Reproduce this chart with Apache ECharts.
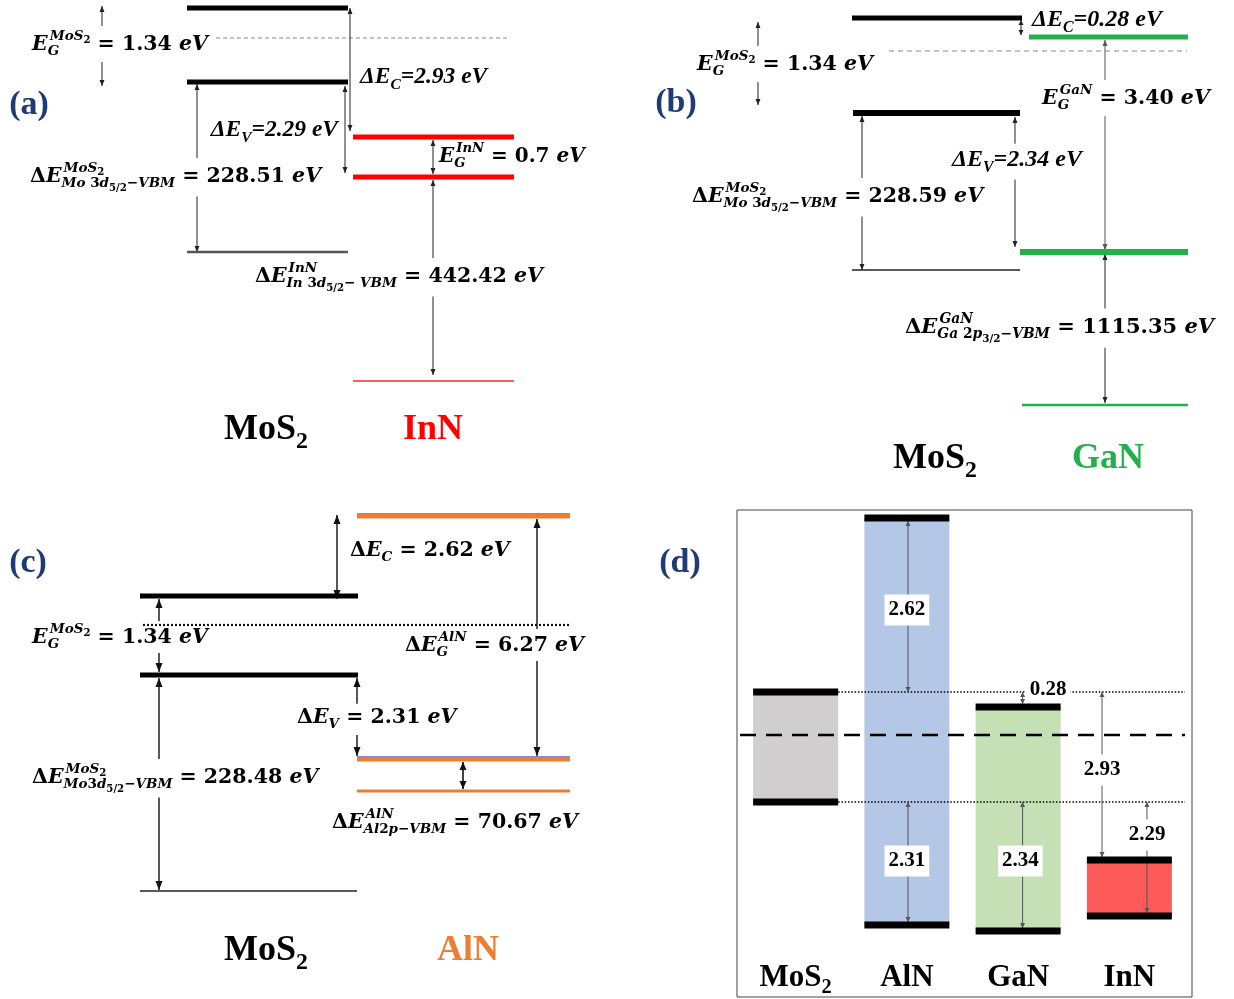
<!DOCTYPE html>
<html><head><meta charset="utf-8">
<script src="https://cdn.jsdelivr.net/npm/echarts@6/dist/echarts.min.js"></script>
<style>html,body{margin:0;padding:0;background:#fff}#c{width:1234px;height:999px}</style>
</head><body><div id="c"></div>
<script>
// ================= DATA =================
// Level heights are schematic diagram units (the original drawing is not to scale), up = higher energy.
// (a) MoS2 / InN
const aNames = ['MoS_{2}', 'InN'];
const aGap = ['1.34', '0.7'];
const aOffset = ['2.93', '2.29'];          // ΔEc, ΔEv
const aCoreBE = ['228.51', '442.42'];
const aCBM = [482, 353];
const aVBM = [408, 313];
const aCore = [238, 109];
const aMid = [452];
// (b) MoS2 / GaN
const bNames = ['MoS_{2}', 'GaN'];
const bGap = ['1.34', '3.40'];
const bOffset = ['0.28', '2.34'];
const bCoreBE = ['228.59', '1115.35'];
const bCBM = [472, 453];
const bVBM = [377, 238];
const bCore = [220, 85];
const bMid = [439];
// (c) MoS2 / AlN
const cNames = ['MoS_{2}', 'AlN'];
const cGap = ['1.34', '6.27'];
const cOffset = ['2.62', '2.31'];
const cCoreBE = ['228.48', '70.67'];
const cCBM = [403, 483];
const cVBM = [324, 240];
const cCore = [108, 208];
const cMid = [374];
// (d) summary
const dNames = ['MoS_{2}', 'AlN', 'GaN', 'InN'];
const dCBM = [307, 481, 292, 139];
const dVBM = [197, 74, 68, 83];
const dMid = [264];
const dOffC = ['2.62', '0.28', '2.93'];   // AlN, GaN, InN
const dOffV = ['2.31', '2.34', '2.29'];

// ================= STYLE =================
const TNR = "'Liberation Serif', 'Times New Roman', serif";
const MATH = "'DejaVu Serif', serif";
const NAVY = '#1f3a75';
const RED = '#ff0000', GREEN = '#22b04b', ORANGE = '#ed7d31';

// ================= math text helpers =================
const ctx = document.createElement('canvas').getContext('2d');
function measure(font, s) { ctx.font = font; return ctx.measureText(s).width; }
function fontStr(it, size, fam) { return (it ? 'italic ' : '') + 'bold ' + size.toFixed(2) + 'px ' + fam; }
function parse(s) {
  let i = 0;
  function group() {
    const out = []; let buf = '';
    const flush = () => { if (buf) { out.push({ t: buf }); buf = ''; } };
    while (i < s.length) {
      const c = s[i];
      if (c === '}') { i++; break; }
      if (c === '^' || c === '_') {
        flush(); i++;
        let inner;
        if (s[i] === '{') { i++; inner = group(); } else { inner = [{ t: s[i] }]; i++; }
        const last = out[out.length - 1];
        if (last && last.script && !last[c]) last[c] = inner;
        else out.push({ script: true, [c]: inner });
        continue;
      }
      buf += c; i++;
    }
    flush();
    return out;
  }
  return group();
}
function runs(s, mode) {
  const out = [];
  for (const ch of s) {
    const it = mode === 'it' ? true : mode === 'rm' ? false : /[A-Za-z]/.test(ch);
    if (out.length && out[out.length - 1].it === it) out[out.length - 1].s += ch;
    else out.push({ s: ch, it });
  }
  return out;
}
function layout(nodes, size, x, y, level, mode, fam, out) {
  let cx = x, lastIt = false;
  for (const n of nodes) {
    if (n.t !== undefined) {
      for (const r of runs(n.t, mode)) {
        const f = fontStr(r.it, size, fam);
        out.push({ text: r.s, x: cx, y, font: f, size });
        cx += measure(f, r.s);
        lastIt = r.it;
      }
    } else {
      const ss = size * (level === 0 ? 0.66 : 0.75);
      let w = 0;
      if (n['^']) w = Math.max(w, layout(n['^'], ss, cx + (lastIt ? size * 0.1 : 0), y - size * 0.42, level + 1, mode, fam, out) - cx);
      if (n['_']) w = Math.max(w, layout(n['_'], ss, cx, y + size * 0.32, level + 1, mode, fam, out) - cx);
      cx += w;
    }
  }
  return cx;
}

// ================= primitives =================
function level(x0, x1, e, color, w, z) { return { k: 'L', x0, x1, e, color, w, z: z == null ? 4 : z }; }
function guide(x0, x1, e, color, w, dash, z) { return { k: 'L', x0, x1, e, color, w, dash, z: z == null ? 1 : z }; }
function arrow(x, e0, e1, st) { return Object.assign({ k: 'A', x, e0, e1, z: 2 }, st); }
function box(x0, x1, e0, e1, fill) { return { k: 'R', x0, x1, e0, e1, fill, z: 0 }; }
function text(x, e, src, size, opt) { return Object.assign({ k: 'T', x, e, src, size, mode: 'math', fam: MATH, color: '#000', align: 'left', bg: true, pad: 3, z: 3 }, opt || {}); }

function render(prims) {
  return function (params, api) {
    const p = prims[api.value(2)];
    if (p.k === 'L') {
      const a = api.coord([p.x0, p.e]), b = api.coord([p.x1, p.e]);
      return { type: 'line', shape: { x1: a[0], y1: a[1], x2: b[0], y2: b[1] },
        style: { stroke: p.color, lineWidth: p.w, lineDash: p.dash || null, lineCap: 'butt' } };
    }
    if (p.k === 'R') {
      const a = api.coord([p.x0, p.e1]), b = api.coord([p.x1, p.e0]);
      return { type: 'rect', shape: { x: a[0], y: a[1], width: b[0] - a[0], height: b[1] - a[1] }, style: { fill: p.fill } };
    }
    if (p.k === 'A') {
      const a = api.coord([p.x, p.e0]), b = api.coord([p.x, p.e1]);
      const hw = p.hw || 3, hl = p.hl || 6, col = p.color || '#222';
      const ch = [{ type: 'line', shape: { x1: a[0], y1: a[1], x2: b[0], y2: b[1] }, style: { stroke: col, lineWidth: p.w || 1 } }];
      const head = (tip, from) => {
        const d = Math.sign(tip[1] - from[1]);
        return { type: 'polygon', shape: { points: [[tip[0], tip[1]], [tip[0] - hw, tip[1] - d * hl], [tip[0] + hw, tip[1] - d * hl]] }, style: { fill: col } };
      };
      ch.push(head(a, b)); ch.push(head(b, a));
      return { type: 'group', children: ch };
    }
    if (p.k === 'T') {
      const tmp = [];
      const w = layout(parse(p.src), p.size, 0, 0, 0, p.mode, p.fam, tmp);
      const c = api.coord([p.x, p.e]);
      const x0 = c[0] - (p.align === 'center' ? w / 2 : p.align === 'right' ? w : 0);
      let top = Infinity, bot = -Infinity;
      tmp.forEach(t => { top = Math.min(top, t.y - t.size * 0.55); bot = Math.max(bot, t.y + t.size * 0.55); });
      const ch = [];
      if (p.bg) ch.push({ type: 'rect', shape: { x: x0 - p.pad, y: c[1] + top - p.pad, width: w + 2 * p.pad, height: bot - top + 2 * p.pad }, style: { fill: '#fff', stroke: p.border || null, lineWidth: 1 } });
      tmp.forEach(t => ch.push({ type: 'text', style: { text: t.text, x: x0 + t.x, y: c[1] + t.y, font: t.font, fill: p.color, align: 'left', verticalAlign: 'middle' } }));
      return { type: 'group', children: ch };
    }
  };
}

// ================= panel builders =================
const IT = { mode: 'it', fam: TNR };
function panelA() {
  const P = [], mx = [187, 348], nx = [353, 514];
  P.push(level(mx[0], mx[1], aCBM[0], '#000', 5));
  P.push(level(mx[0], mx[1], aVBM[0], '#000', 5));
  P.push(level(mx[0], mx[1], aCore[0], '#555', 2.5));
  P.push(level(nx[0], nx[1], aCBM[1], RED, 5));
  P.push(level(nx[0], nx[1], aVBM[1], RED, 5));
  P.push(level(nx[0], nx[1], aCore[1], '#ff5c5c', 2));
  P.push(guide(216, 510, aMid[0], '#8a8a8a', 1.2, [4, 3]));
  const th = { w: 1, hw: 2.5, hl: 6, color: '#222' };
  P.push(arrow(102, aCBM[0] + 2, aVBM[0] - 4, th));
  P.push(arrow(350, aCBM[0], aCBM[1] + 6, th));
  P.push(arrow(345, aVBM[0] - 4, aVBM[1] + 4, th));
  P.push(arrow(197, aVBM[0] - 2, aCore[0], th));
  P.push(arrow(433, aCBM[1] - 3, aVBM[1] + 3, th));
  P.push(arrow(433, aVBM[1] - 3, aCore[1] + 6, th));
  P.push(text(32, 445, `E_{G}^{MoS_{2}} = ${aGap[0]} eV`, 20.5));
  P.push(text(360, 413, `ΔE_{C}=${aOffset[0]} eV`, 23.5, IT));
  P.push(text(338, 360, `ΔE_{V}=${aOffset[1]} eV`, 23.5, Object.assign({ align: 'right' }, IT)));
  P.push(text(30, 313, `ΔE^{MoS_{2}}_{Mo 3d_{5/2}−VBM} = ${aCoreBE[0]} eV`, 20.5));
  P.push(text(439, 333, `E_{G}^{InN} = ${aGap[1]} eV`, 20, { pad: 1 }));
  P.push(text(255, 213, `ΔE^{InN}_{In 3d_{5/2}− VBM} = ${aCoreBE[1]} eV`, 20.5));
  P.push(text(29, 385, '(a)', 34, { mode: 'rm', fam: TNR, color: NAVY, align: 'center', bg: false }));
  P.push(text(266, 60, aNames[0], 36, { mode: 'rm', fam: TNR, align: 'center', bg: false }));
  P.push(text(433, 60, aNames[1], 36, { mode: 'rm', fam: TNR, color: RED, align: 'center', bg: false }));
  return P;
}
function panelB() {
  const P = [];
  P.push(level(235, 405, bCBM[0], '#000', 5));
  P.push(level(236, 403, bVBM[0], '#000', 6));
  P.push(level(235, 403, bCore[0], '#222', 1.5));
  P.push(level(412, 571, bCBM[1], GREEN, 5));
  P.push(level(403, 571, bVBM[1], GREEN, 6));
  P.push(level(405, 571, bCore[1], GREEN, 2.5));
  P.push(guide(272, 570, bMid[0], '#8a8a8a', 1.2, [5, 4]));
  const th = { w: 1, hw: 2.5, hl: 6, color: '#222' };
  P.push(arrow(141, bCBM[0] - 4, bVBM[0] + 8, th));
  P.push(arrow(404, bCBM[0] - 2, bCBM[1] + 2, { w: 1, hw: 2.5, hl: 5, color: '#222' }));
  P.push(arrow(488, bCBM[1] - 3, bVBM[1] + 2, { w: 1, hw: 2.5, hl: 6, color: '#555' }));
  P.push(arrow(398, bVBM[0] - 4, bVBM[1] + 5, th));
  P.push(arrow(245, bVBM[0] - 3, bCore[0], th));
  P.push(arrow(488, bVBM[1] - 2, bCore[1] + 2, th));
  P.push(text(80, 425, `E_{G}^{MoS_{2}} = ${bGap[0]} eV`, 20.5));
  P.push(text(415, 470, `ΔE_{C}=${bOffset[0]} eV`, 24, Object.assign({ bg: false }, IT)));
  P.push(text(425, 391, `E_{G}^{GaN} = ${bGap[1]} eV`, 20.5));
  P.push(text(335, 330, `ΔE_{V}=${bOffset[1]} eV`, 24, IT));
  P.push(text(75, 293, `ΔE^{MoS_{2}}_{Mo 3d_{5/2}−VBM} = ${bCoreBE[0]} eV`, 20.5));
  P.push(text(288, 162, `ΔE^{GaN}_{Ga 2p_{3/2}−VBM} = ${bCoreBE[1]} eV`, 21));
  P.push(text(59, 387, '(b)', 34, { mode: 'rm', fam: TNR, color: NAVY, align: 'center', bg: false }));
  P.push(text(318, 31, bNames[0], 36, { mode: 'rm', fam: TNR, align: 'center', bg: false }));
  P.push(text(491, 31, bNames[1], 36, { mode: 'rm', fam: TNR, color: GREEN, align: 'center', bg: false }));
  return P;
}
function panelC() {
  const P = [], mx = [140, 358], ax = [357, 570];
  P.push(level(mx[0], mx[1], cCBM[0], '#000', 5));
  P.push(level(mx[0], mx[1], cVBM[0], '#000', 5));
  P.push(level(mx[0], 357, cCore[0], '#222', 1.5));
  P.push(level(ax[0], ax[1], cCBM[1], ORANGE, 5));
  P.push(level(ax[0], ax[1], cCBM[1] + 2.5, '#8c86d0', 1));
  P.push(level(ax[0], ax[1], cVBM[1], ORANGE, 5));
  P.push(level(ax[0], ax[1], cVBM[1] + 2.5, '#8c86d0', 1));
  P.push(level(ax[0], ax[1], cCore[1], ORANGE, 3));
  P.push(guide(143, 570, cMid[0], '#111', 2.2, [2, 2], 4));
  const th = { w: 1.4, hw: 3.5, hl: 9, color: '#111' };
  P.push(arrow(337, cCBM[1] + 1, cCBM[0] - 3, th));
  P.push(arrow(159, cCBM[0] - 3, cVBM[0] + 3, th));
  P.push(arrow(537, cCBM[1] - 3, cVBM[1] + 3, th));
  P.push(arrow(357, cVBM[0] - 3, cVBM[1] + 3, th));
  P.push(arrow(463, cVBM[1] - 3, cCore[1] + 2, { w: 1.6, hw: 3.5, hl: 8, color: '#111' }));
  P.push(arrow(159, cVBM[0] - 3, cCore[0] + 1, th));
  P.push(text(350, 448, `ΔE_{C} = ${cOffset[0]} eV`, 20.5, { bg: false }));
  P.push(text(32, 361, `E_{G}^{MoS_{2}} = ${cGap[0]} eV`, 20.5, { pad: 1 }));
  P.push(text(405, 353, `ΔE_{G}^{AlN} = ${cGap[1]} eV`, 20.5, { pad: 1 }));
  P.push(text(297, 281, `ΔE_{V} = ${cOffset[1]} eV`, 20.5));
  P.push(text(32, 221, `ΔE^{MoS_{2}}_{Mo3d_{5/2}−VBM} = ${cCoreBE[0]} eV`, 20.5));
  P.push(text(332, 176, `ΔE^{AlN}_{Al2p−VBM} = ${cCoreBE[1]} eV`, 20.5, { bg: false }));
  P.push(text(28, 436, '(c)', 34, { mode: 'rm', fam: TNR, color: NAVY, align: 'center', bg: false }));
  P.push(text(266, 48, cNames[0], 36, { mode: 'rm', fam: TNR, align: 'center', bg: false }));
  P.push(text(468, 48, cNames[1], 36, { mode: 'rm', fam: TNR, color: ORANGE, align: 'center', bg: false }));
  return P;
}
function panelD() {
  const P = [], HW = 0.382;
  const fills = ['#d0cece', '#b4c7e7', '#c5e0b4', '#ff5a5a'];
  dNames.forEach((n, i) => {
    P.push(box(i - HW, i + HW, dVBM[i], dCBM[i], fills[i]));
    P.push(level(i - HW, i + HW, dCBM[i], '#000', 7));
    P.push(level(i - HW, i + HW, dVBM[i], '#000', 7));
    P.push(text(i, 21, n, 31, { mode: 'rm', fam: TNR, align: 'center', bg: false }));
  });
  P.push(guide(-0.5, 3.5, dMid[0], '#000', 2.5, [16, 10]));
  P.push(guide(HW, 3.5, dCBM[0], '#000', 1.6, [1.5, 1.8]));
  P.push(guide(HW, 3.5, dVBM[0], '#000', 1.6, [1.5, 1.8]));
  const th = { w: 1, hw: 2.5, hl: 5, color: '#555' };
  P.push(arrow(1.01, dCBM[0], dCBM[1] - 3, th));
  P.push(arrow(1.01, dVBM[0], dVBM[1] + 3, th));
  P.push(arrow(2.04, dCBM[0], dCBM[2] + 3, th));
  P.push(arrow(2.04, dVBM[0], dVBM[2] + 3, th));
  P.push(arrow(2.754, dCBM[0], dCBM[3] + 3, th));
  P.push(arrow(3.158, dVBM[0], dVBM[3] + 3, th));
  const vl = { mode: 'rm', fam: TNR, align: 'center', pad: 4 };
  P.push(text(1.0, 389, dOffC[0], 21, vl));
  P.push(text(1.0, 138, dOffV[0], 21, vl));
  P.push(text(2.27, 309, dOffC[1], 21, vl));
  P.push(text(2.02, 138, dOffV[1], 21, vl));
  P.push(text(2.754, 229, dOffC[2], 21, vl));
  P.push(text(3.16, 164, dOffV[2], 21, vl));
  P.push(text(-1.04, 436, '(d)', 34, { mode: 'rm', fam: TNR, color: NAVY, align: 'center', bg: false }));
  return P;
}

// ================= chart =================
const panels = [panelA(), panelB(), panelC(), panelD()];
const grids = [
  { left: 0, top: 0, width: 617, height: 490 },
  { left: 617, top: 0, width: 617, height: 490 },
  { left: 0, top: 490, width: 640, height: 509 },
  { left: 740, top: 490, width: 445, height: 509 }
];
const xr = [[0, 617], [0, 617], [0, 640], [-0.5, 3.5]];
const yr = [[0, 490], [0, 490], [0, 509], [0, 509]];
const series = [];
panels.forEach((prims, g) => {
  for (let z = 0; z <= 4; z++) {
    const data = [];
    prims.forEach((p, i) => { if (p.z === z) data.push([p.x != null ? p.x : p.x0, p.e != null ? p.e : p.e0, i]); });
    if (!data.length) continue;
    series.push({ type: 'custom', coordinateSystem: 'cartesian2d', xAxisIndex: g, yAxisIndex: g, z: z + 1,
      clip: false, silent: true, renderItem: render(prims), data, animation: false });
  }
});
const chart = echarts.init(document.getElementById('c'), null, { renderer: 'canvas', width: 1234, height: 999 });
chart.setOption({
  animation: false,
  backgroundColor: '#fff',
  grid: grids,
  xAxis: grids.map((g, i) => ({ type: 'value', gridIndex: i, min: xr[i][0], max: xr[i][1], show: false })),
  yAxis: grids.map((g, i) => ({ type: 'value', gridIndex: i, min: yr[i][0], max: yr[i][1], show: false })),
  graphic: [{ type: 'rect', shape: { x: 737, y: 510, width: 455, height: 487 }, style: { fill: null, stroke: '#444', lineWidth: 1 }, silent: true }],
  series
});
</script></body></html>
